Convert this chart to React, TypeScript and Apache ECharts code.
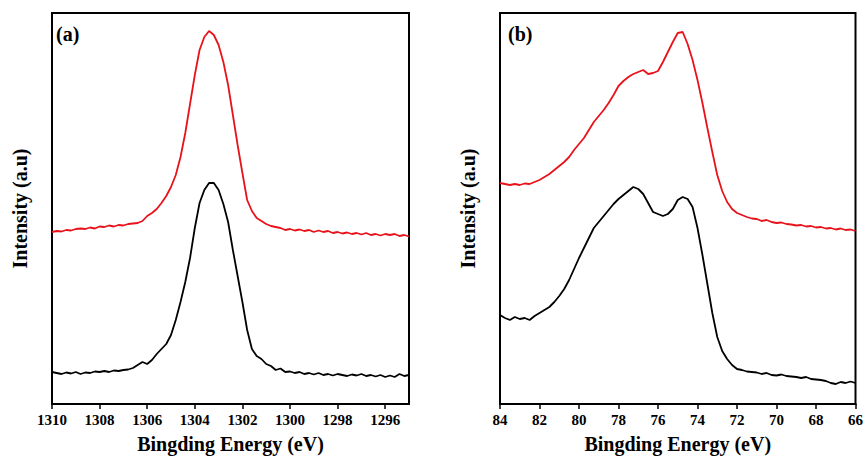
import React, { useEffect, useRef } from "react";
import * as echarts from "echarts";

// Panel (a): binding energy grid (eV)
const energyA = [
  1310.0, 1309.8, 1309.6, 1309.4, 1309.2, 1309.0, 1308.8, 1308.6, 1308.4, 1308.2,
  1308.0, 1307.8, 1307.6, 1307.4, 1307.2, 1307.0, 1306.8, 1306.6, 1306.4, 1306.2,
  1306.0, 1305.8, 1305.6, 1305.4, 1305.2, 1305.0, 1304.8, 1304.6, 1304.4, 1304.2,
  1304.0, 1303.8, 1303.6, 1303.4, 1303.2, 1303.0, 1302.8, 1302.6, 1302.4, 1302.2,
  1302.0, 1301.8, 1301.6, 1301.4, 1301.2, 1301.0, 1300.8, 1300.6, 1300.4, 1300.2,
  1300.0, 1299.8, 1299.6, 1299.4, 1299.2, 1299.0, 1298.8, 1298.6, 1298.4, 1298.2,
  1298.0, 1297.8, 1297.6, 1297.4, 1297.2, 1297.0, 1296.8, 1296.6, 1296.4, 1296.2,
  1296.0, 1295.8, 1295.6, 1295.4, 1295.2, 1295.0,
];
const redA = [
  172, 173, 172.5, 174, 173.5, 175, 175.5, 175, 176.5, 175.5,
  177.5, 177, 178.5, 177.5, 179, 178.5, 180, 180.5, 181, 183,
  188, 191, 195, 201, 208, 217, 229, 247, 271, 300,
  329, 354, 367, 373, 369, 359, 342, 319, 289, 259,
  231, 204, 193, 186, 183, 180, 178, 177, 176, 174,
  175, 173.5, 174.5, 173, 174, 172, 173.5, 172, 173, 171,
  172, 170.5, 171.5, 170, 171, 169.5, 171, 169, 170, 168.5,
  170, 169, 170, 168, 169, 167.5,
];
const blackA = [
  32, 31, 30, 31.5, 30.5, 32, 30, 31.5, 31, 32.5,
  32, 33, 32, 33.5, 33, 34, 34.5, 36, 39, 42,
  40, 44, 50, 55, 60, 69, 84, 102, 122, 146,
  176, 201, 214, 221, 221, 214, 200, 182, 154, 128,
  102, 74, 55, 48, 45, 40, 38, 34, 35.5, 32,
  32.5, 31, 32, 30, 31, 29.5, 31, 29, 30, 28.5,
  30, 29, 28, 29.5, 28.5, 30, 28, 29, 27.5, 29,
  27, 28.5, 27, 30, 28, 29,
];

// Panel (b): binding energy grid (eV)
const energyB = [
  84.0, 83.75, 83.5, 83.25, 83.0, 82.75, 82.5, 82.25, 82.0, 81.75,
  81.5, 81.25, 81.0, 80.75, 80.5, 80.25, 80.0, 79.75, 79.5, 79.25,
  79.0, 78.75, 78.5, 78.25, 78.0, 77.75, 77.5, 77.25, 77.0, 76.75,
  76.5, 76.25, 76.0, 75.75, 75.5, 75.25, 75.0, 74.75, 74.5, 74.25,
  74.0, 73.75, 73.5, 73.25, 73.0, 72.75, 72.5, 72.25, 72.0, 71.75,
  71.5, 71.25, 71.0, 70.75, 70.5, 70.25, 70.0, 69.75, 69.5, 69.25,
  69.0, 68.75, 68.5, 68.25, 68.0, 67.75, 67.5, 67.25, 67.0, 66.75,
  66.5, 66.25, 66.0,
];
const redB = [
  221, 220, 219, 220, 219, 220.5, 220, 222, 224, 227,
  230, 234, 238, 242, 247, 254, 260, 266, 274, 282,
  288, 294, 301, 309, 318, 323, 327, 330, 332, 334,
  330, 331, 333, 342, 352, 362, 371, 372, 360, 344,
  324, 301, 276, 252, 229, 213, 202, 195, 191, 189,
  187, 185.5, 185, 183, 184, 182, 181, 181.5, 180, 179.5,
  178.5, 179, 177.5, 178, 176.5, 177, 175.5, 176, 174.5, 175.5,
  174, 174.5, 173,
];
const blackB = [
  89, 86, 84, 87, 85, 86, 84, 88, 91, 94,
  97, 102, 108, 115, 124, 135, 146, 156, 166, 176,
  182, 188, 194, 200, 205, 209, 213, 217, 215, 210,
  201, 192, 190, 188, 190, 195, 204, 207, 205, 197,
  176, 149, 120, 91, 67, 53, 45, 39, 35, 34,
  32.5, 32, 31.5, 30, 31, 29, 28.5, 29.5, 28, 27.5,
  27, 26, 27, 25, 24.5, 24, 23, 21, 20, 22,
  21, 22.5, 21,
];

const ticksA = [1310, 1308, 1306, 1304, 1302, 1300, 1298, 1296];
const ticksB = [84, 82, 80, 78, 76, 74, 72, 70, 68, 66];

const xTitle = "Bingding Energy (eV)";
const yTitle = "Intensity (a.u)";
const panelLabels = ["(a)", "(b)"];

const FONT = "'Liberation Serif', 'Times New Roman', serif";
const RED = "#e8121a";

const zip = (xs: number[], ys: number[]) => xs.map((x, i) => [x, ys[i]]);

export default function App() {
  const ref = useRef<HTMLDivElement>(null);
  useEffect(() => {
    if (!ref.current) return;
    const chart = echarts.init(ref.current, null, { renderer: "svg" });
    const grids = [
      { left: 52, top: 13, width: 357, height: 391 },
      { left: 500, top: 13, width: 358, height: 391 },
    ];
    const mkX = (i: number, min: number, max: number, ticks: number[]) => ({
      type: "value",
      gridIndex: i,
      min,
      max,
      inverse: true,
      name: xTitle,
      nameLocation: "middle",
      nameGap: 30,
      nameTextStyle: { fontFamily: FONT, fontWeight: "bold", fontSize: 20, color: "#000" },
      axisLine: { show: true, lineStyle: { color: "#000", width: 2 } },
      axisTick: {
        show: true,
        inside: false,
        length: 5,
        lineStyle: { color: "#000", width: 1.5 },
        customValues: ticks,
      },
      axisLabel: {
        show: true,
        margin: 8,
        fontFamily: FONT,
        fontWeight: "bold",
        fontSize: 15,
        color: "#000",
        customValues: ticks,
        showMinLabel: true,
        showMaxLabel: true,
        formatter: (v: number) => String(v),
      },
      splitLine: { show: false },
    });
    const mkY = (i: number) => ({
      type: "value",
      gridIndex: i,
      min: 0,
      max: 391,
      name: yTitle,
      nameLocation: "middle",
      nameGap: 22,
      nameTextStyle: { fontFamily: FONT, fontWeight: "bold", fontSize: 20, color: "#000" },
      axisLine: { show: true, lineStyle: { color: "#000", width: 2 } },
      axisTick: { show: false },
      axisLabel: { show: false },
      splitLine: { show: false },
    });
    const mkS = (xi: number, data: number[][], color: string) => ({
      type: "line",
      xAxisIndex: xi,
      yAxisIndex: xi,
      data,
      showSymbol: false,
      symbol: "none",
      lineStyle: { color, width: 1.8 },
      silent: true,
    });
    chart.setOption({
      animation: false,
      backgroundColor: "#fff",
      grid: grids.map((g) => ({ ...g, show: true, borderColor: "#000", borderWidth: 2, backgroundColor: "transparent" })),
      xAxis: [mkX(0, 1295, 1310, ticksA), mkX(1, 66, 84, ticksB)],
      yAxis: [mkY(0), mkY(1)],
      series: [
        mkS(0, zip(energyA, redA), RED),
        mkS(0, zip(energyA, blackA), "#000"),
        mkS(1, zip(energyB, redB), RED),
        mkS(1, zip(energyB, blackB), "#000"),
      ],
      graphic: [
        {
          type: "text",
          left: 56,
          top: 24,
          style: { text: panelLabels[0], fontFamily: FONT, fontWeight: "bold", fontSize: 20, fill: "#000" },
        },
        {
          type: "text",
          left: 508,
          top: 24,
          style: { text: panelLabels[1], fontFamily: FONT, fontWeight: "bold", fontSize: 20, fill: "#000" },
        },
      ],
    });
    return () => chart.dispose();
  }, []);
  return <div ref={ref} style={{ width: 866, height: 462, position: "absolute", left: 0, top: 0 }} />;
}
